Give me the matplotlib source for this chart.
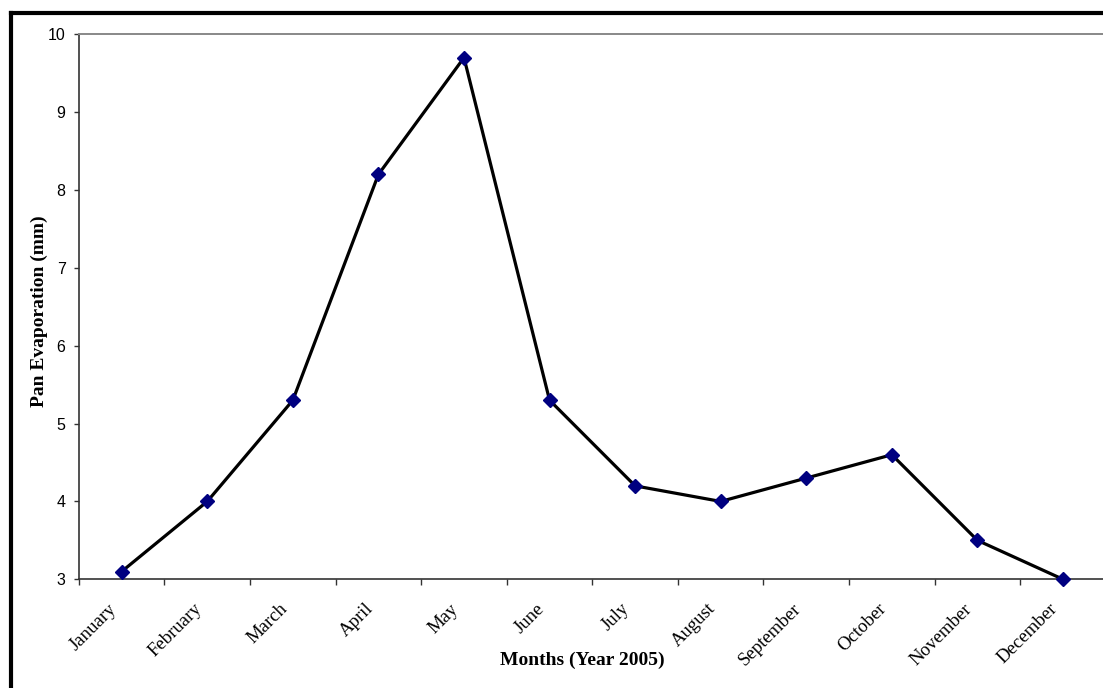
import matplotlib
matplotlib.use("Agg")
import matplotlib.pyplot as plt
import matplotlib.transforms as mtransforms
from matplotlib.lines import Line2D
import numpy as np

months = ["January", "February", "March", "April", "May", "June", "July",
          "August", "September", "October", "November", "December"]
evaporation = [3.1, 4.0, 5.3, 8.2, 9.7, 5.3, 4.2, 4.0, 4.3, 4.6, 3.5, 3.0]
y_ticks = [3, 4, 5, 6, 7, 8, 9, 10]

W, H = 1103, 688
fig = plt.figure(figsize=(W / 100, H / 100), dpi=100)
fig.patch.set_facecolor("white")

ax_l, ax_r, ax_t, ax_b = 78.9, 1105.8, 34.3, 579.3
ax = fig.add_axes([ax_l / W, (H - ax_b) / H, (ax_r - ax_l) / W, (ax_b - ax_t) / H])

x = np.arange(len(months))
ax.plot(x, evaporation, color="black", lw=2.3, marker="D", markersize=7.5,
        markerfacecolor="#000080", markeredgecolor="#000080", zorder=3, clip_on=False)

ax.set_xlim(-0.5, len(months) - 0.5)
ax.set_ylim(3, 10)
ax.set_yticks(y_ticks)
ax.set_yticklabels([str(v) for v in y_ticks], fontfamily="Liberation Sans", fontsize=11.5)

ax.set_xticks(x)
ax.set_xticklabels(months, rotation=45, ha="right", va="top", rotation_mode="anchor",
                   fontfamily="Liberation Serif", fontsize=13.5)
ax.set_xticks(np.arange(len(months) + 1) - 0.5, minor=True)
ax.tick_params(axis="x", which="major", length=0, pad=0)
ax.tick_params(axis="x", which="minor", length=4.3, width=1.0, color="#333333", direction="out")
ax.tick_params(axis="y", which="major", length=3.6, width=1.0, color="#333333", pad=6)

offset = mtransforms.ScaledTranslation(-14 / 100, -21 / 100, fig.dpi_scale_trans)
for lab in ax.get_xticklabels():
    lab.set_transform(lab.get_transform() + offset)

for s in ["left", "bottom"]:
    ax.spines[s].set_color("#333333")
    ax.spines[s].set_linewidth(1.2)
ax.spines["right"].set_visible(False)
ax.spines["top"].set_color("#888888")
ax.spines["top"].set_linewidth(1.4)

ax.set_xlabel("Months (Year 2005)", fontfamily="Liberation Serif", fontweight="bold",
              fontsize=14, va="center")
ax.xaxis.set_label_coords((582 - ax_l) / (ax_r - ax_l), (ax_b - 660) / (ax_b - ax_t))
ax.set_ylabel("Pan Evaporation (mm)", fontfamily="Liberation Serif", fontweight="bold",
              fontsize=14, va="center")
ax.yaxis.set_label_coords((39 - ax_l) / (ax_r - ax_l), (ax_b - 311) / (ax_b - ax_t))

# outer chart border (only top and left edges visible in the frame)
fig.add_artist(Line2D([11 / W, 11 / W], [0, 1 - 13 / H], color="black", lw=3,
                      transform=fig.transFigure, solid_capstyle="projecting"))
fig.add_artist(Line2D([11 / W, 1.01], [1 - 13 / H, 1 - 13 / H], color="black", lw=3,
                      transform=fig.transFigure, solid_capstyle="projecting"))

fig.savefig("out.png", dpi=100)
